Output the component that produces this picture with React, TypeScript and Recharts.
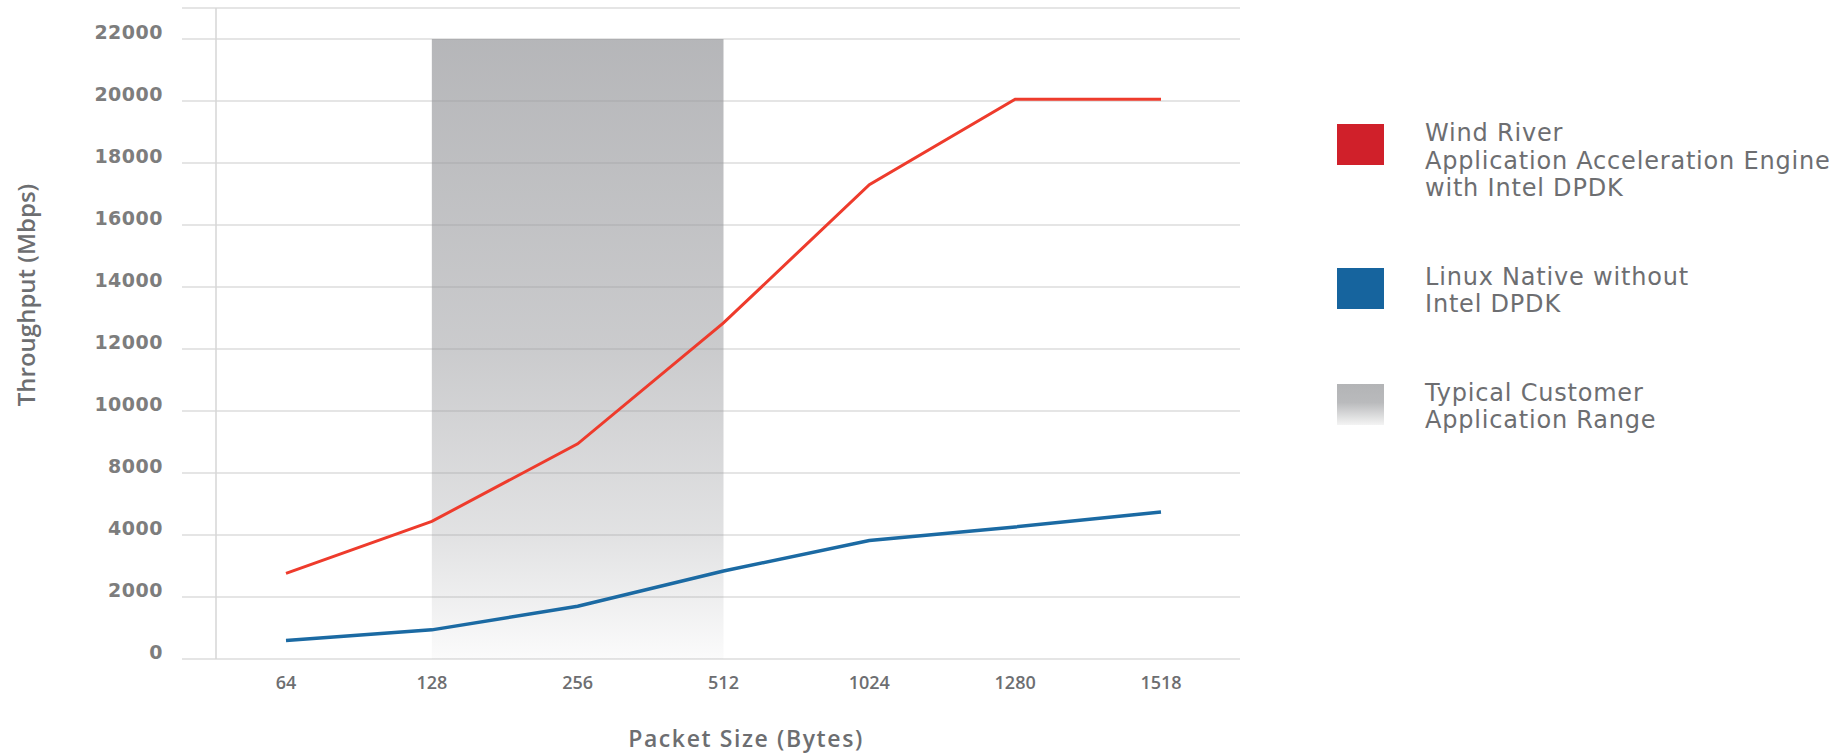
import { LineChart, Line, XAxis, YAxis, CartesianGrid, ReferenceArea, Legend, Label } from 'recharts';

// packet sizes on the x axis
const packetSizes = ['64', '128', '256', '512', '1024', '1280', '1518'];

// throughput in Mbps, read against the printed axis labels
const windRiver = [2760, 4880, 8940, 12840, 17300, 20060, 20060];
const linuxNative = [600, 940, 1700, 2840, 3820, 4520, 5480];

// the printed y labels sit on evenly spaced gridlines (6000 is skipped in the original)
const yTickLabels = [0, 2000, 4000, 8000, 10000, 12000, 14000, 16000, 18000, 20000, 22000];

// shaded "typical customer" range
const rangeStart = '128';
const rangeEnd = '512';

const legendEntries = [
  { lines: ['Wind River', 'Application Acceleration Engine', 'with Intel DPDK'], swatch: '#d0202a' },
  { lines: ['Linux Native without', 'Intel DPDK'], swatch: '#16649e' },
  { lines: ['Typical Customer', 'Application Range'], swatch: 'linear-gradient(#b3b4b6, #b9babc 45%, #f4f4f4)' },
];

const textGray = '#6d6e71';
const font = '"Open Sans", sans-serif';
const wideFont = '"DejaVu Sans", sans-serif';

// position on the evenly spaced gridlines for a value in Mbps
const toGridPos = (v: number) => {
  for (let i = 0; i < yTickLabels.length - 1; i++) {
    const lo = yTickLabels[i];
    const hi = yTickLabels[i + 1];
    if (v <= hi) return i + (v - lo) / (hi - lo);
  }
  return yTickLabels.length - 1;
};

const data = packetSizes.map((size, i) => ({
  size,
  windRiver: toGridPos(windRiver[i]),
  linux: toGridPos(linuxNative[i]),
}));

const YTick = (props: any) => {
  const { x, y, payload } = props;
  return (
    <text x={x} y={y - 7} textAnchor="end" dominantBaseline="central" fill="#7d7d7d" fontSize={19} fontWeight={700} fontFamily={wideFont} letterSpacing={0.5}>
      {yTickLabels[payload.value]}
    </text>
  );
};

const LegendBox = () => (
  <div style={{ fontFamily: wideFont, color: textGray, fontSize: 24, letterSpacing: 0.8 }}>
    {legendEntries.map((e) => (
      <div key={e.lines[0]} style={{ display: 'flex', alignItems: 'flex-start', marginBottom: 61 }}>
        <div style={{ width: 47, height: 41, marginTop: 4, background: e.swatch, flexShrink: 0 }} />
        <div style={{ marginLeft: 41, lineHeight: '27.5px', whiteSpace: 'nowrap' }}>
          {e.lines.map((l) => (
            <div key={l}>{l}</div>
          ))}
        </div>
      </div>
    ))}
  </div>
);

export default function App() {
  return (
    <div style={{ position: 'absolute', left: 0, top: 0, width: 1843, height: 756, background: '#fff' }}>
      <LineChart width={1843} height={756} data={data} margin={{ top: 8, right: 603, bottom: 37, left: 0 }}>
        <defs>
          <linearGradient id="rangeFade" x1="0" y1="0" x2="0" y2="1">
            <stop offset="0%" stopColor="#96979b" stopOpacity={0.7} />
            <stop offset="50%" stopColor="#96979b" stopOpacity={0.5} />
            <stop offset="80%" stopColor="#96979b" stopOpacity={0.28} />
            <stop offset="100%" stopColor="#96979b" stopOpacity={0.04} />
          </linearGradient>
        </defs>
        <CartesianGrid vertical={false} stroke="#dcdcdc" strokeWidth={1.5} x={182} width={1058} />
        <XAxis
          dataKey="size"
          height={60}
          padding={{ left: 70, right: 79 }}
          axisLine={false}
          tickLine={false}
          tickSize={0}
          tickMargin={17}
          tick={{ fill: textGray, fontSize: 18, fontWeight: 600, fontFamily: font }}
        >
          <Label
            content={() => (
              <text x={746} y={738} textAnchor="middle" dominantBaseline="central" fill={textGray} fontSize={23} fontWeight={600} fontFamily={font} letterSpacing={1.6}>
                Packet Size (Bytes)
              </text>
            )}
          />
        </XAxis>
        <YAxis
          type="number"
          width={216}
          domain={[0, 10.5]}
          ticks={yTickLabels.map((_, i) => i)}
          allowDataOverflow
          axisLine={{ stroke: '#d6d6d6', strokeWidth: 1.5 }}
          tickLine={false}
          tickSize={0}
          tickMargin={53}
          tick={<YTick />}
        >
          <Label
            content={() => (
              <text
                x={25}
                y={295}
                transform="rotate(-90, 25, 295)"
                textAnchor="middle"
                dominantBaseline="central"
                fill={textGray}
                fontSize={24}
                fontWeight={600}
                fontFamily={font}
              >
                Throughput (Mbps)
              </text>
            )}
          />
        </YAxis>
        <ReferenceArea x1={rangeStart} x2={rangeEnd} y1={0} y2={10} fill="url(#rangeFade)" fillOpacity={1} stroke="none" ifOverflow="visible" />
        <Line type="linear" dataKey="windRiver" stroke="#ee3b2c" strokeWidth={3} dot={false} isAnimationActive={false} />
        <Line type="linear" dataKey="linux" stroke="#1b6aa3" strokeWidth={3.5} dot={false} isAnimationActive={false} />
        <Legend
          layout="horizontal"
          verticalAlign="middle"
          align="center"
          content={<LegendBox />}
          wrapperStyle={{ left: 1337, top: 120, width: 500, height: 330 }}
        />
      </LineChart>
    </div>
  );
}
